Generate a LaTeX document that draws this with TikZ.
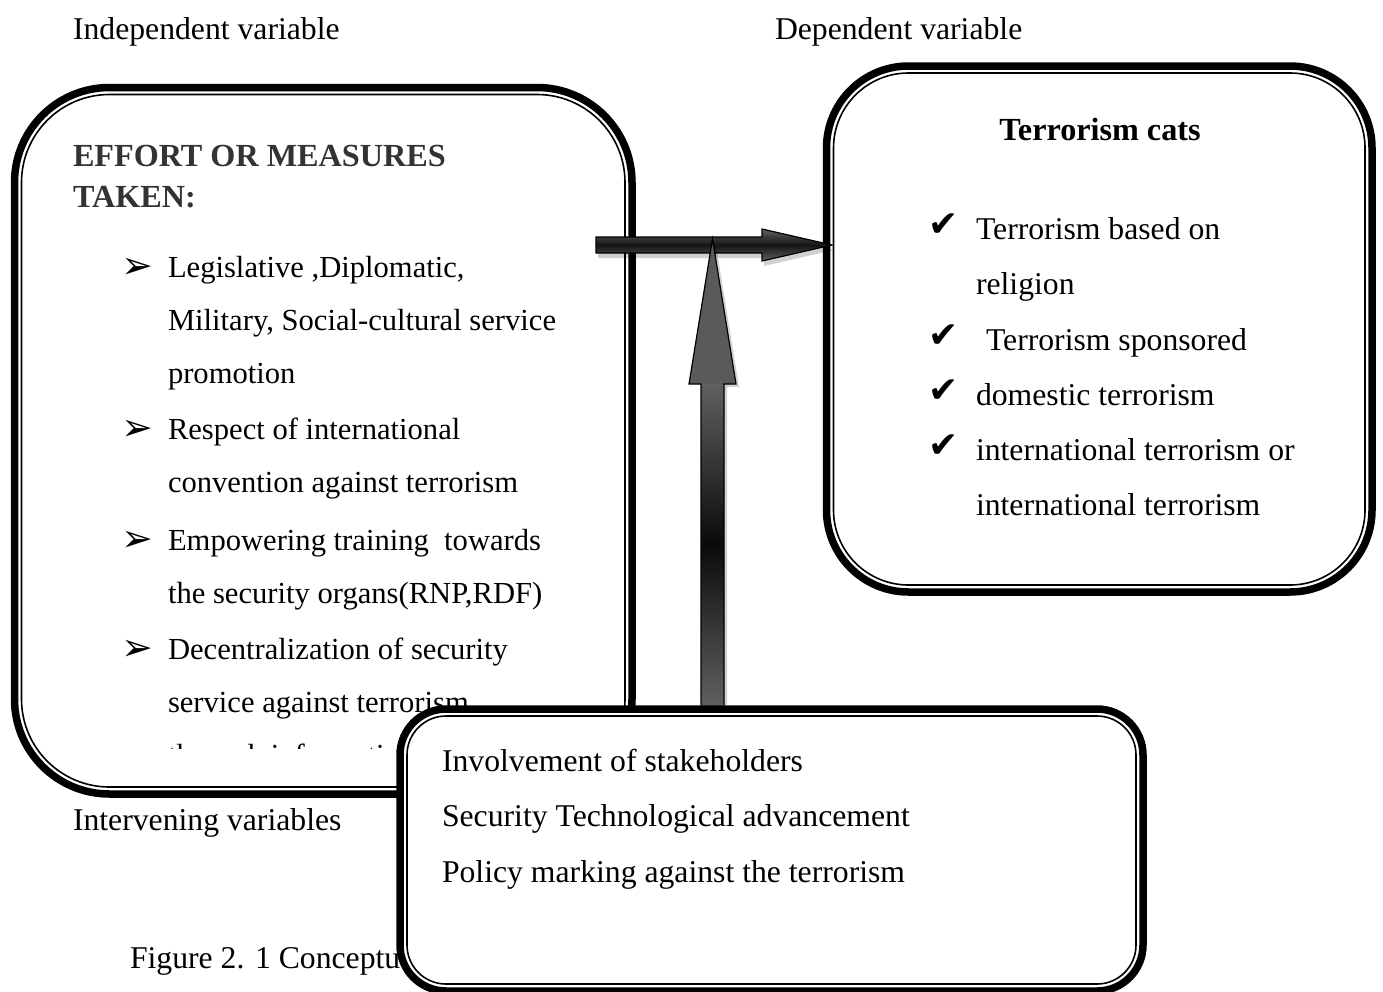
\documentclass[tikz,border=0pt]{standalone}
\usepackage{fontspec}
\setmainfont{Liberation Serif}
\newfontfamily\dejavu{DejaVu Sans}
\usetikzlibrary{calc,shadows}
\definecolor{boldgray}{HTML}{333333}
\definecolor{arrgray}{HTML}{5A5A5A}
\definecolor{arredge}{HTML}{606060}
\tikzset{
  txt/.style={anchor=base west, inner sep=0pt, outer sep=0pt, font=\fontsize{31.7}{38}\selectfont},
  ltxt/.style={anchor=base west, inner sep=0pt, outer sep=0pt, font=\fontsize{30.6}{38}\selectfont},
  btxt/.style={anchor=base west, inner sep=0pt, outer sep=0pt, font=\fontsize{32.2}{38}\selectfont\bfseries},
  bul/.style={anchor=base west, inner sep=0pt, outer sep=0pt, font=\dejavu\fontsize{38}{42}\selectfont},
  chk/.style={anchor=base west, inner sep=0pt, outer sep=0pt, font=\dejavu\fontsize{36}{40}\selectfont},
  framebox/.style={draw, line width=7.5pt, fill=white, outer sep=0pt, inner sep=0pt, rectangle},
  innerline/.style={line width=1.6pt},
  arrowline/.style={draw=black, line width=1.2pt, line join=miter},
  shadowfill/.style={fill=black, opacity=0.18},
}
\begin{document}
\begin{tikzpicture}[x=1pt,y=-1pt]
\clip (0,0) rectangle (1383,991);

% ---------- left box ----------
\node[framebox, rounded corners=95pt, minimum width=617.5pt, minimum height=706.5pt] (L) at (323.25,440.75) {};
\draw[innerline, rounded corners=88pt] ([shift={(7pt,-7pt)}]L.north west) rectangle ([shift={(-7pt,7pt)}]L.south east);

\node[btxt, text=boldgray] (l0a) at (73,166) {EFFORT OR MEASURES};
\node[btxt, text=boldgray] (l0b) at (73,207) {TAKEN:};

\node[bul] (b1) at (121,278) {➢};
\node[ltxt] (l1a) at (168,277) {Legislative ,Diplomatic,};
\node[ltxt] (l1b) at (168,330) {Military, Social-cultural service};
\node[ltxt] (l1c) at (168,383) {promotion};
\node[bul] (b2) at (121,440) {➢};
\node[ltxt] (l2a) at (168,439) {Respect of international};
\node[ltxt] (l2b) at (168,492) {convention against terrorism};
\node[bul] (b3) at (121,551) {➢};
\node[ltxt] (l3a) at (168,550) {Empowering training\ \ towards};
\node[ltxt] (l3b) at (168,603) {the security organs(RNP,RDF)};
\node[bul] (b4) at (121,660) {➢};
\node[ltxt] (l4a) at (168,659) {Decentralization of security};
\node[ltxt] (l4b) at (168,712) {service against terrorism};
\begin{scope}
  \clip (0,0) rectangle (632,748);
  \node[ltxt] (l4c) at (168,765) {through information};
\end{scope}

% ---------- right box ----------
\node[framebox, rounded corners=82pt, minimum width=545.5pt, minimum height=526pt] (R) at (1099.25,329) {};
\draw[innerline, rounded corners=75pt] ([shift={(7pt,-7pt)}]R.north west) rectangle ([shift={(-7pt,7pt)}]R.south east);

\node[btxt, anchor=base] (rt) at (1100,140) {Terrorism cats};
\node[chk] (c1) at (928,236) {✔};
\node[txt] (r1a) at (976,239) {Terrorism based on};
\node[txt] (r1b) at (976,294) {religion};
\node[chk] (c2) at (928,347) {✔};
\node[txt] (r2) at (986,350) {Terrorism sponsored};
\node[chk] (c3) at (928,402) {✔};
\node[txt] (r3) at (976,405) {domestic terrorism};
\node[chk] (c4) at (928,457) {✔};
\node[txt] (r4a) at (976,460) {international terrorism or};
\node[txt] (r4b) at (976,515) {international terrorism};

% ---------- horizontal arrow ----------
\coordinate (hs) at (596,245);
\coordinate (ht) at (832,245);
\fill[shadowfill] ($(hs)+(2,5)$) ++(0,-8) -- ++(166,0) -- ++(0,-8) -- ($(ht)+(2,5)$) -- ++(-70,16) -- ++(0,-8) -- ++(-166,0) -- cycle;
\shadedraw[arrowline, top color=arredge, bottom color=arredge, middle color=black!92]
  (hs) ++(0,-8) -- ++(166,0) -- ++(0,-8) -- (ht) -- ++(-70,16) -- ++(0,-8) -- ++(-166,0) -- cycle;

% ---------- vertical arrow ----------
\coordinate (vt) at (712.5,239);
\coordinate (vb) at (712.5,705);
\fill[shadowfill] ($(vb)+(-8.5,0)$) -- ++(0,-321) -- ++(-12,0) -- ($(vt)+(3,3)$) -- ($(vt)+(26.5,148)$) -- ++(-12,0) -- ++(0,321) -- cycle;
\fill[arrgray] ($(vt)+(-23.5,145)$) -- (vt) -- ($(vt)+(23.5,145)$) -- cycle;
\shade[top color=arredge, bottom color=arredge, middle color=black!96] ($(vt)+(-11.5,145)$) rectangle ($(vb)+(11.5,0)$);
\draw[arrowline] ($(vb)+(-11.5,0)$) -- ($(vt)+(-11.5,145)$) -- ($(vt)+(-23.5,145)$) -- (vt) -- ($(vt)+(23.5,145)$) -- ($(vt)+(11.5,145)$) -- ($(vb)+(11.5,0)$);

% ---------- free labels ----------
\node[txt] (iv) at (73,39) {Independent variable};
\node[txt] (dv) at (775,39) {Dependent variable};
\node[txt] (inv) at (73,830) {Intervening variables};
\node[txt] (fig) at (130,968) {Figure 2. 1 Conceptu};

% ---------- bottom box ----------
\node[framebox, rounded corners=46pt, minimum width=743pt, minimum height=282pt] (B) at (771.5,850) {};
\draw[innerline, rounded corners=39pt] ([shift={(7pt,-7pt)}]B.north west) rectangle ([shift={(-7pt,7pt)}]B.south east);
\node[txt] (m1) at (442,771) {Involvement of stakeholders};
\node[txt] (m2) at (442,826) {Security Technological advancement};
\node[txt] (m3) at (442,882) {Policy marking against the terrorism};
\end{tikzpicture}
\end{document}
